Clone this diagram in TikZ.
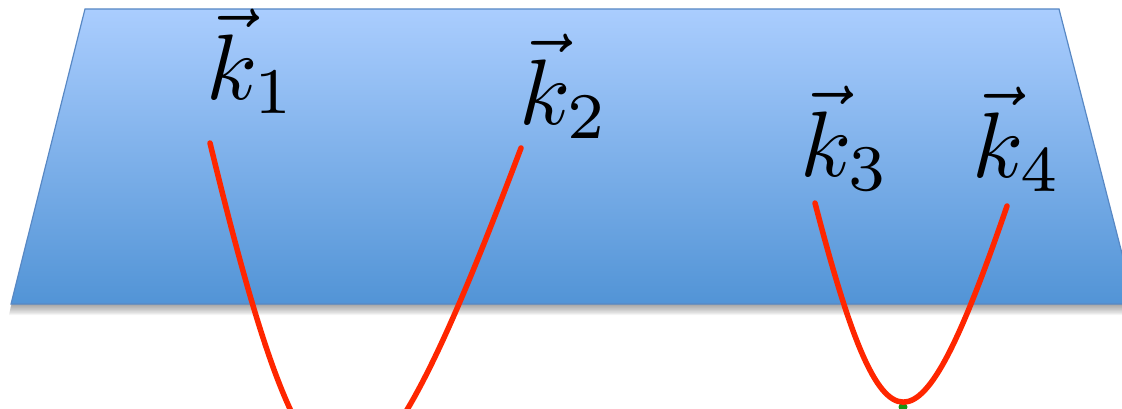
\documentclass[tikz,border=0pt]{standalone}
\definecolor{planetop}{RGB}{170,205,254}
\definecolor{planebot}{RGB}{82,148,214}
\definecolor{planeedge}{RGB}{88,136,196}
\definecolor{curvered}{RGB}{255,38,0}
\definecolor{dotgreen}{RGB}{20,150,20}
\newcommand{\biglbl}[1]{\scalebox{9.3}{$#1$}}
\tikzset{
  lbl/.style={inner sep=0pt, anchor=base west},
  redcurve/.style={draw=curvered, line width=5.5pt, line cap=round},
}
\begin{document}
\begin{tikzpicture}[x=1pt,y=-1pt]
\clip (0,0) rectangle (1122,409);
% shadow
\foreach \i in {1,...,10}{
  \fill[black, opacity=0.045] (85,9+\i*1.1) -- (1059,9+\i*1.1) -- (1135,304+\i*1.1) -- (11-\i*0.2,304+\i*1.1) -- cycle;
}
% plane
\path[top color=planetop, bottom color=planebot, draw=planeedge, line width=1.2pt]
  (85,9) -- (1059,9) -- (1135,304) -- (11,304) -- cycle;
% labels
\node[lbl] (k1) at (206,100) {\biglbl{\vec{k}_1}};
\node[lbl] (k2) at (519,125) {\biglbl{\vec{k}_2}};
\node[lbl] (k3) at (800,177) {\biglbl{\vec{k}_3}};
\node[lbl] (k4) at (972,178) {\biglbl{\vec{k}_4}};
% curve end points
\coordinate (a1) at (210,143);
\coordinate (a2) at (521,148);
\coordinate (a3) at (815,203);
\coordinate (a4) at (1007,206);
\coordinate (g) at (903,407);
% green dot
\fill[dotgreen] (g) circle (4.5);
% red curves
\draw[redcurve] (a1) .. controls (315,575) and (360,575) .. (a2);
\draw[redcurve] (a3) .. controls (884,468) and (917,468) .. (a4);
\end{tikzpicture}
\end{document}
